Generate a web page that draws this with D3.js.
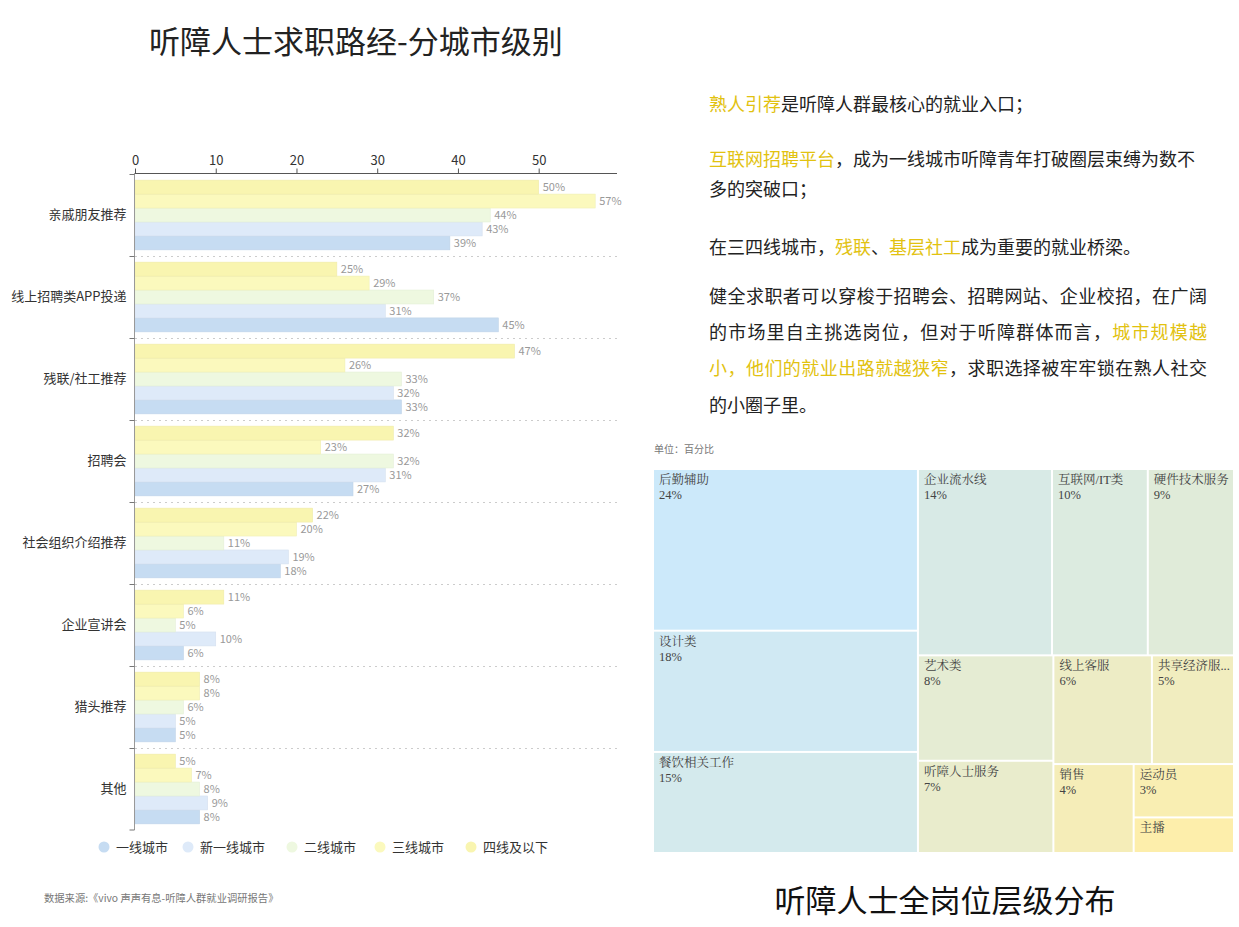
<!DOCTYPE html>
<html><head><meta charset="utf-8">
<script src="https://cdn.jsdelivr.net/npm/d3@7/dist/d3.min.js"></script>
<style>
html,body{margin:0;padding:0;background:#fff;}
svg{display:block;}
</style></head>
<body>
<svg id="c" width="1239" height="927"></svg>
<script>
// ---------- data ----------
const categories = ['亲戚朋友推荐','线上招聘类APP投递','残联/社工推荐','招聘会','社会组织介绍推荐','企业宣讲会','猎头推荐','其他'];
const seriesNames = ['一线城市','新一线城市','二线城市','三线城市','四线及以下'];
const tier1    = [39,45,33,27,18,6,5,8];
const newTier1 = [43,31,32,31,19,10,5,9];
const tier2    = [44,37,33,32,11,5,6,8];
const tier3    = [57,29,26,23,20,6,8,7];
const tier4    = [50,25,47,32,22,11,8,5];
const xTicks = [0,10,20,30,40,50];
const seriesColors = ['#c6dcf2','#deeaf9','#eef8e0','#fbf9bd','#f9f5b0'];

const jobNames  = ['后勤辅助','设计类','餐饮相关工作','企业流水线','互联网/IT类','硬件技术服务','艺术类','听障人士服务','线上客服','共享经济服务','销售','运动员','主播'];
const jobValues = [24,18,15,14,10,9,8,7,6,5,4,3,2];

const seriesValues = [tier1,newTier1,tier2,tier3,tier4];

const svg = d3.select('#c');
const SANS = '"Noto Sans CJK SC","Noto Sans",sans-serif';
const SERIF = '"Liberation Serif","Noto Serif CJK SC",serif';

// ---------- titles ----------
svg.append('text').attr('x',356).attr('y',53).attr('text-anchor','middle')
  .attr('font-family',SANS).attr('font-size',31).attr('fill','#222')
  .text('听障人士求职路经-分城市级别');
svg.append('text').attr('x',945).attr('y',912).attr('text-anchor','middle')
  .attr('font-family',SANS).attr('font-size',31).attr('fill','#111')
  .text('听障人士全岗位层级分布');

// ---------- bar chart ----------
const x = d3.scaleLinear().domain([0,59.7]).range([135,617]);
const y = d3.scaleBand().domain(categories).range([174,830]).paddingInner(0.15).paddingOuter(0.075);
const yOuter = d3.scaleBand().domain(categories).range([174,830]);
const sub = d3.scaleBand().domain(seriesNames.slice().reverse()).range([0,y.bandwidth()]);

const g = svg.append('g');

// split lines
g.selectAll('line.split').data(categories.slice(1)).enter().append('line')
  .attr('x1',135).attr('x2',617)
  .attr('y1',d=>yOuter(d)+0.5).attr('y2',d=>yOuter(d)+0.5)
  .attr('stroke','#ccc').attr('stroke-dasharray','2,4').attr('stroke-width',1);

// bars
seriesNames.forEach((s,i)=>{
  const vals = seriesValues[i];
  const col = seriesColors[i];
  const bg = g.append('g');
  bg.selectAll('rect').data(categories).enter().append('rect')
    .attr('x',x(0)).attr('y',(d)=>y(d)+sub(s))
    .attr('width',(d,j)=>x(vals[j])-x(0)).attr('height',sub.bandwidth())
    .attr('fill',col).attr('stroke',d3.color(col).darker(0.12)).attr('stroke-width',0.6);
  bg.selectAll('text').data(categories).enter().append('text')
    .attr('x',(d,j)=>x(vals[j])+4).attr('y',(d)=>y(d)+sub(s)+sub.bandwidth()/2)
    .attr('dy','0.36em').attr('font-family',SANS).attr('font-size',11).attr('fill','#999')
    .text((d,j)=>vals[j]+'%');
});

// x axis (top)
const xAxis = d3.axisTop(x).tickValues(xTicks).tickSize(5).tickPadding(4);
const xg = svg.append('g').attr('transform','translate(0,173.5)').call(xAxis);
xg.select('.domain').attr('stroke','#555').attr('d','M134,0H617');
xg.selectAll('.tick line').attr('stroke','#555');
xg.selectAll('.tick text').attr('font-family',SANS).attr('font-size',13).attr('fill','#333');

// y axis (left)
const yAxis = d3.axisLeft(yOuter).tickSize(0).tickPadding(8);
const yg = svg.append('g').attr('transform','translate(134.5,0)').call(yAxis);
yg.select('.domain').attr('stroke','#999').attr('d','M0,173V830');
yg.selectAll('.tick text').attr('font-family',SANS).attr('font-size',13).attr('fill','#333');
// boundary ticks
yg.selectAll('line.bt').data(categories.concat(['__end'])).enter().append('line')
  .attr('x1',-5).attr('x2',0)
  .attr('y1',(d,i)=> i<categories.length ? yOuter(d)+0.5 : 830)
  .attr('y2',(d,i)=> i<categories.length ? yOuter(d)+0.5 : 830)
  .attr('stroke','#777');

// legend
const legendX = [104,188,292,380,471];
const lg = svg.append('g');
seriesNames.forEach((s,i)=>{
  lg.append('circle').attr('cx',legendX[i]).attr('cy',847).attr('r',5.5).attr('fill',seriesColors[i]);
  lg.append('text').attr('x',legendX[i]+12).attr('y',847).attr('dy','0.36em')
    .attr('font-family',SANS).attr('font-size',13).attr('fill','#333').text(s);
});

// source
svg.append('text').attr('x',44).attr('y',902).attr('font-family',SANS).attr('font-size',10.3).attr('fill','#777')
  .text('数据来源:《vivo 声声有息-听障人群就业调研报告》');

// ---------- right text ----------
const HL = '#e2c210';
const paraLines = [
  {y:111, parts:[['熟人引荐',1],['是听障人群最核心的就业入口；',0]]},
  {y:166, parts:[['互联网招聘平台',1],['，成为一线城市听障青年打破圈层束缚为数不',0]]},
  {y:196, parts:[['多的突破口；',0]]},
  {y:254, parts:[['在三四线城市，',0],['残联',1],['、',0],['基层社工',1],['成为重要的就业桥梁。',0]]},
  {y:303, parts:[['健全求职者可以穿梭于招聘会、招聘网站、企业校招，在广阔',0]], fit:498},
  {y:339, parts:[['的市场里自主挑选岗位，但对于听障群体而言，',0],['城市规模越',1]], fit:498},
  {y:375, parts:[['小，他们的就业出路就越狭窄',1],['，求职选择被牢牢锁在熟人社交',0]], fit:498},
  {y:412, parts:[['的小圈子里。',0]]}
];
const tg = svg.append('g');
paraLines.forEach(l=>{
  const t = tg.append('text').attr('x',709).attr('y',l.y).attr('font-family',SANS).attr('font-size',18).attr('fill','#222');
  if(l.fit){ t.attr('textLength',l.fit).attr('lengthAdjust','spacing'); }
  l.parts.forEach(p=>{
    t.append('tspan').attr('fill',p[1]?HL:'#222').text(p[0]);
  });
});

svg.append('text').attr('x',654).attr('y',453).attr('font-family',SANS).attr('font-size',10).attr('fill','#777').text('单位：百分比');

// ---------- treemap ----------
const tmX = 654, tmY = 470, tmW = 579, tmH = 382;
const root = d3.hierarchy({children: jobNames.map((n,i)=>({name:n, value:jobValues[i], idx:i}))})
  .sum(d=>d.value||0).sort((a,b)=>b.value-a.value);
d3.treemap().size([tmW,tmH]).paddingInner(2).tile(d3.treemapSquarify)(root);
const tColor = d3.scaleLinear().domain([0, jobNames.length-1]).range(['#cce9fa','#fdeeab']);
const tm = svg.append('g').attr('transform',`translate(${tmX},${tmY})`);
const cell = tm.selectAll('g').data(root.leaves()).enter().append('g')
  .attr('transform',d=>`translate(${d.x0},${d.y0})`);
cell.append('rect').attr('width',d=>d.x1-d.x0).attr('height',d=>d.y1-d.y0)
  .attr('fill',d=>tColor(d.data.idx));
cell.each(function(d){
  const c = d3.select(this);
  const w = d.x1-d.x0, h = d.y1-d.y0;
  const t = c.append('text').attr('x',5).attr('y',14).attr('font-family',SERIF).attr('font-size',12.5).attr('fill','#444').text(d.data.name);
  const maxW = w-7;
  let name = d.data.name;
  if(t.node().getComputedTextLength() > maxW){
    while(name.length>1){
      name = name.slice(0,-1);
      t.text(name+'...');
      if(t.node().getComputedTextLength() <= maxW) break;
    }
  }
  if(h > 45){
    c.append('text').attr('x',5).attr('y',29).attr('font-family',SERIF).attr('font-size',12.5).attr('fill','#444').text(d.data.value+'%');
  }
});
</script>
</body></html>
